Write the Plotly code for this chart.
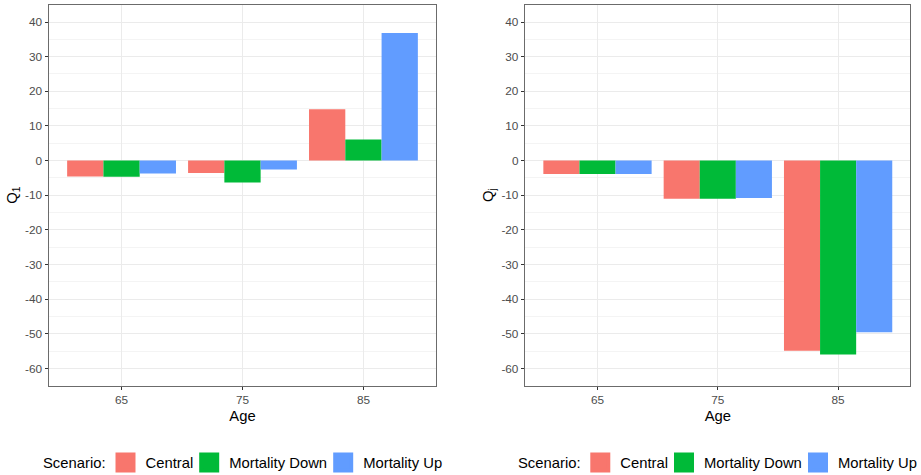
import plotly.graph_objects as go

ages = ["65", "75", "85"]
scenarios = ["Central", "Mortality Down", "Mortality Up"]
colors = ["#F8766D", "#00BA38", "#619CFF"]

q1_central = [-4.6, -3.6, 14.8]
q1_down = [-4.7, -6.3, 6.1]
q1_up = [-3.7, -2.6, 36.8]

qj_central = [-3.9, -11.0, -54.9]
qj_down = [-3.9, -11.0, -56.0]
qj_up = [-3.9, -10.8, -49.6]

y_tick_vals = [-60, -50, -40, -30, -20, -10, 0, 10, 20, 30, 40]
y_tick_text = ["-60", "-50", "-40", "-30", "-20", "-10", "0", "10", "20", "30", "40"]

FONT = "Liberation Sans"
W, H = 921, 475
left_vals = [q1_central, q1_down, q1_up]
right_vals = [qj_central, qj_down, qj_up]
legend_entry_widths = [38.7, 89, 80]


def px_x(v):
    return v / W


def px_y(v):
    return 1 - v / H


fig = go.Figure()
for name, col, vals in zip(scenarios, colors, left_vals):
    fig.add_trace(go.Bar(x=ages, y=vals, name=name, marker=dict(color=col, line=dict(width=0)),
                         xaxis="x", yaxis="y", showlegend=False, hoverinfo="skip"))
for name, col, vals in zip(scenarios, colors, right_vals):
    fig.add_trace(go.Bar(x=ages, y=vals, name=name, marker=dict(color=col, line=dict(width=0)),
                         xaxis="x2", yaxis="y2", showlegend=False, hoverinfo="skip"))
# legend keys
for lg, xa, ya in [("legend", "x", "y"), ("legend2", "x2", "y2")]:
    for name, col, lw in zip(scenarios, colors, legend_entry_widths):
        fig.add_trace(go.Scatter(x=[None], y=[None], mode="markers", name=name, legend=lg,
                                 legendwidth=lw,
                                 marker=dict(symbol="square", size=16, color=col,
                                             line=dict(color=col, width=4)),
                                 xaxis=xa, yaxis=ya, showlegend=True, hoverinfo="skip"))

common_x = dict(type="category", range=[-0.6, 2.6], showgrid=True, gridcolor="#EBEBEB", gridwidth=1,
                ticks="outside", ticklen=3.5, tickcolor="#333333", tickwidth=1,
                tickfont=dict(family=FONT, size=11.8, color="#4D4D4D"),
                showline=True, mirror=True, linecolor="#6b6b6b", linewidth=1, zeroline=False,
                automargin=False,
                title=dict(text="Age", font=dict(family=FONT, size=14.8, color="black"), standoff=4),
                fixedrange=True)
common_y = dict(range=[-65, 45], tickvals=y_tick_vals, ticktext=y_tick_text,
                showgrid=True, gridcolor="#EBEBEB", gridwidth=1,
                minor=dict(dtick=5, tick0=0, showgrid=True, gridcolor="#F4F4F4", gridwidth=0.6, ticks=""),
                ticks="outside", ticklen=3.5, tickcolor="#333333", tickwidth=1,
                tickfont=dict(family=FONT, size=11.8, color="#4D4D4D"),
                showline=True, mirror=True, linecolor="#6b6b6b", linewidth=1, zeroline=False,
                automargin=False,
                fixedrange=True)

yd = [px_y(385.7), px_y(4.7)]
leg_common = dict(orientation="h", xanchor="left", yanchor="middle",
                  font=dict(family=FONT, size=14.8, color="black"), bgcolor="rgba(0,0,0,0)",
                  borderwidth=0, itemclick=False, itemdoubleclick=False)
fig.update_layout(
    width=W, height=H,
    margin=dict(l=0, r=0, t=0, b=0, autoexpand=False),
    paper_bgcolor="white", plot_bgcolor="white",
    barmode="group", bargap=0.1, bargroupgap=0,
    font=dict(family=FONT),
    hovermode=False,
    xaxis=dict(common_x, domain=[px_x(49), px_x(436)], anchor="y"),
    yaxis=dict(common_y, domain=yd, anchor="x",
               title=dict(text="Q<sub>1</sub>", font=dict(family=FONT, size=14.8, color="black"), standoff=3)),
    xaxis2=dict(common_x, domain=[px_x(525.3), px_x(910.3)], anchor="y2"),
    yaxis2=dict(common_y, domain=yd, anchor="x2",
                title=dict(text="Q<sub>j</sub>", font=dict(family=FONT, size=14.8, color="black"), standoff=4)),
    legend=dict(leg_common, x=px_x(105.5), y=px_y(463)),
    legend2=dict(leg_common, x=px_x(580.3), y=px_y(463)),
    annotations=[
        dict(text="Scenario:", xref="paper", yref="paper", x=px_x(108), y=px_y(463),
             xanchor="right", yanchor="middle", showarrow=False,
             font=dict(family=FONT, size=14.8, color="black")),
        dict(text="Scenario:", xref="paper", yref="paper", x=px_x(583), y=px_y(463),
             xanchor="right", yanchor="middle", showarrow=False,
             font=dict(family=FONT, size=14.8, color="black")),
    ],
)

fig.write_html("out.html", config={"displayModeBar": False},
               post_script="document.body.style.margin='0';")
